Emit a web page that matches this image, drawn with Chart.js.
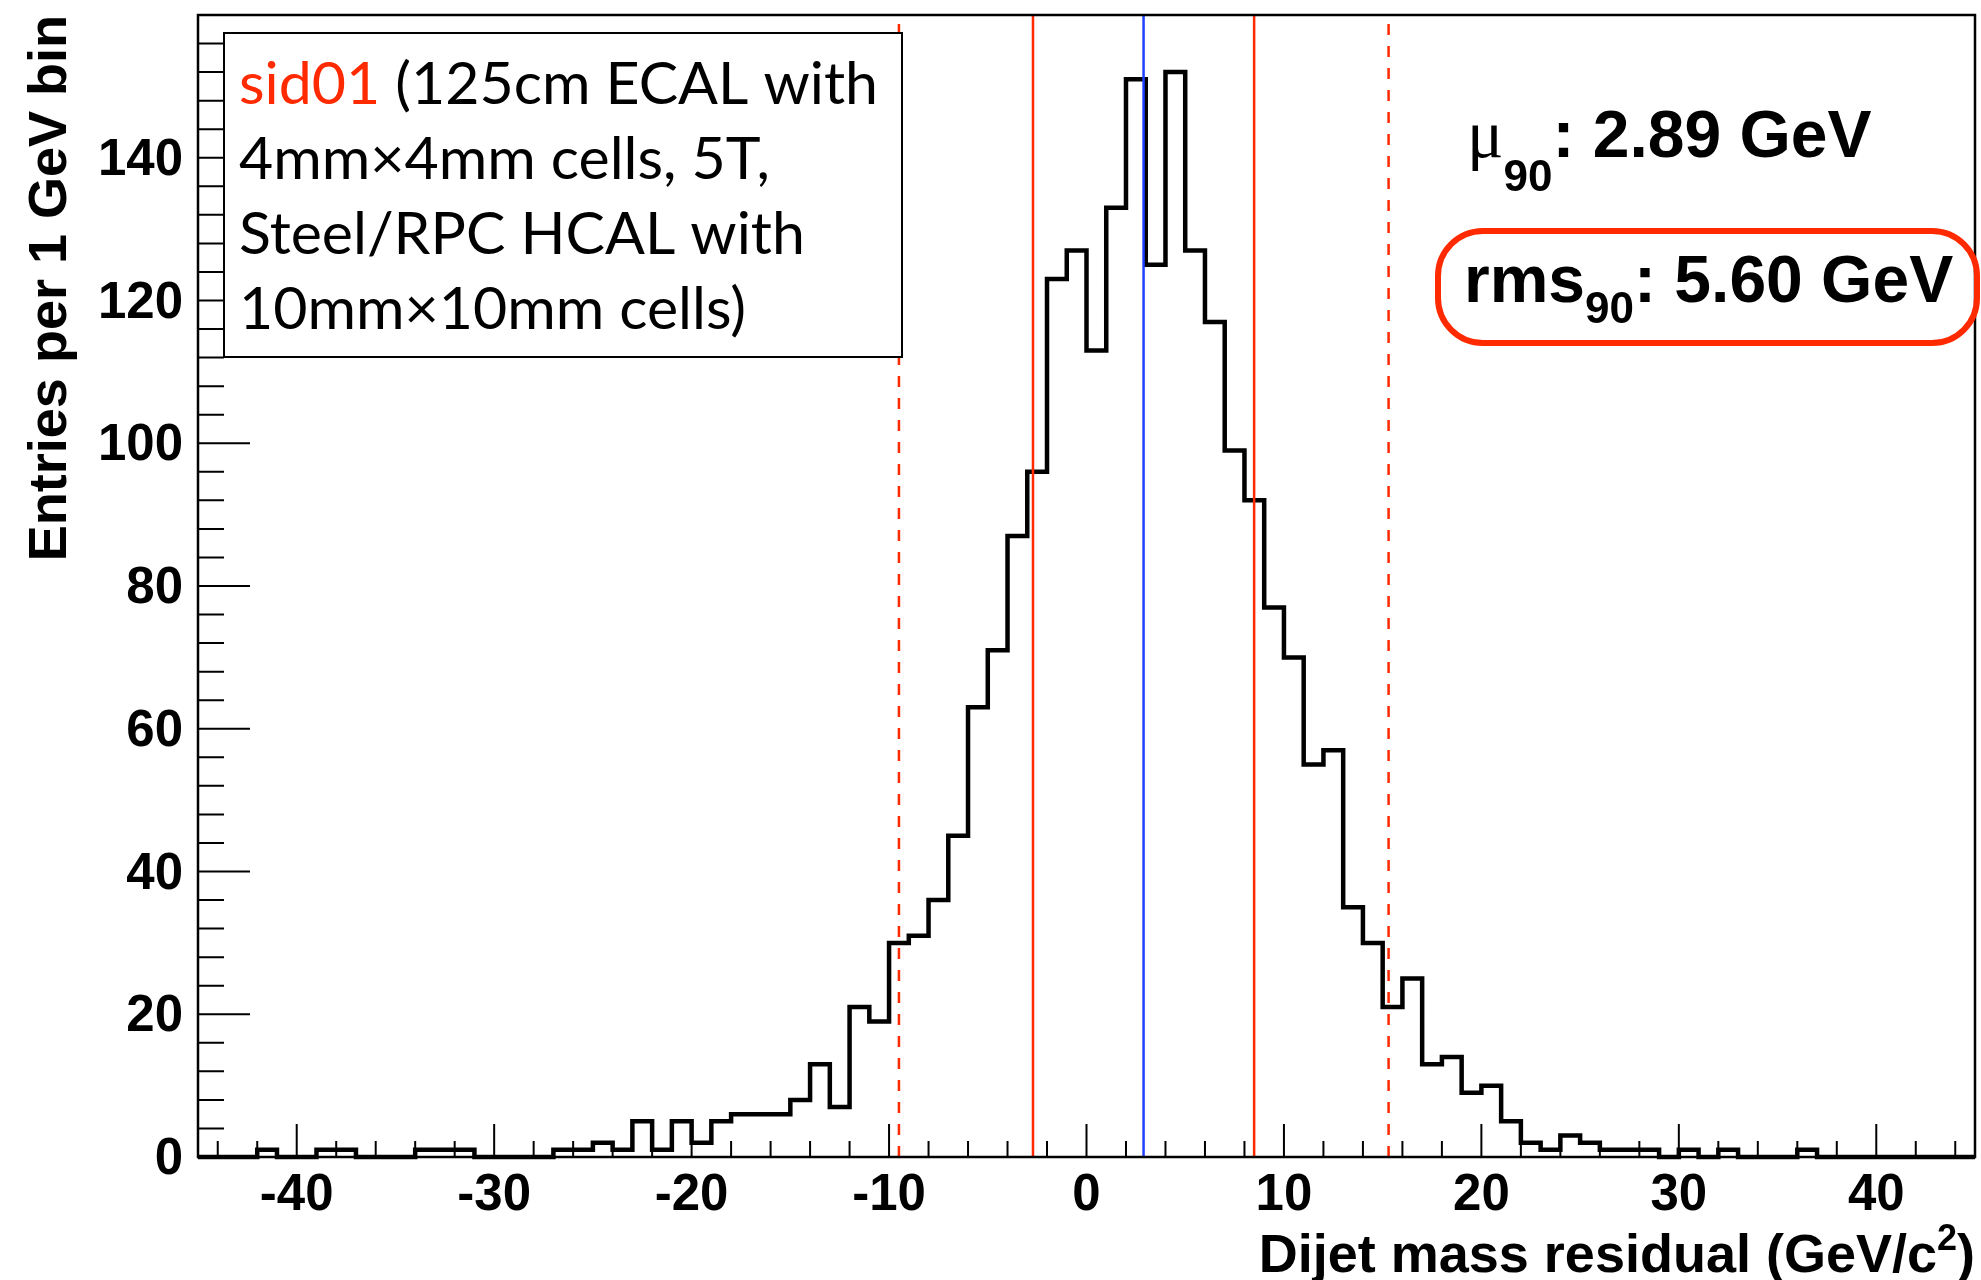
<!DOCTYPE html>
<html>
<head>
<meta charset="utf-8">
<script src="https://cdn.jsdelivr.net/npm/chart.js@4.4.1/dist/chart.umd.min.js"></script>
<style>
  html, body { margin: 0; padding: 0; background: #fff; }
  canvas { display: block; }
</style>
</head>
<body>
<canvas id="myChart" width="1981" height="1280"></canvas>
<script>
// Datos del histograma: bins de 1 GeV desde -45 hasta 45
const binLowEdge = -45;
const binWidth = 1;
const entries = [
    0, 0, 0, 1, 0, 0, 1, 1, 0, 0,
    0, 1, 1, 1, 0, 0, 0, 0, 1, 1,
    2, 1, 5, 1, 5, 2, 5, 6, 6, 6,
    8, 13, 7, 21, 19, 30, 31, 36, 45, 63,
    71, 87, 96, 123, 127, 113, 133, 151, 125, 152,
    127, 117, 99, 92, 77, 70, 55, 57, 35, 30,
    21, 25, 13, 14, 9, 10, 5, 2, 1, 3,
    2, 1, 1, 1, 0, 1, 0, 1, 0, 0,
    0, 1, 0, 0, 0, 0, 0, 0, 0, 0
];
const xTickValues = [-40, -30, -20, -10, 0, 10, 20, 30, 40];
const yTickValues = [0, 20, 40, 60, 80, 100, 120, 140];
const yMax = 160;

// Resultados (líneas verticales)
const mu90 = 2.89;
const rms90 = 5.60;
const range90 = [-9.5, 15.3];

// Textos
const xTitle = ['Dijet mass residual (GeV/c', '2', ')'];
const detectorName = 'sid01';
const detectorLines = [' (125cm ECAL with', '4mm×4mm cells, 5T,', 'Steel/RPC HCAL with', '10mm×10mm cells)'];

const RED = '#ff2a00';
const BLUE = '#2040ff';
const AXIS_FONT = 'Liberation Sans';

// Puntos del histograma (escalones)
const histPoints = entries.map((v, i) => ({ x: binLowEdge + i * binWidth, y: v }));
histPoints.push({ x: binLowEdge + entries.length * binWidth, y: entries[entries.length - 1] });

function vline(x, color, dash) {
    return {
        data: [{ x: x, y: 0 }, { x: x, y: yMax }],
        borderColor: color,
        borderWidth: 2.5,
        borderDash: dash || [],
        pointRadius: 0,
        order: 0
    };
}

// Ticks interiores, marco, caja de texto y resultados
const rootStyle = {
    id: 'rootStyle',
    afterDatasetsDraw(chart) {
        const { ctx, chartArea: a, scales: { x, y } } = chart;
        ctx.save();
        ctx.strokeStyle = '#000';
        ctx.lineWidth = 2;
        ctx.beginPath();
        for (let v = x.min + 1; v < x.max; v += 2) {
            const px = x.getPixelForValue(v);
            const len = xTickValues.includes(v) ? 33 : 16;
            ctx.moveTo(px, a.bottom);
            ctx.lineTo(px, a.bottom - len);
        }
        for (let v = y.min + 4; v < y.max; v += 4) {
            const py = y.getPixelForValue(v);
            const len = yTickValues.includes(v) ? 52 : 26;
            ctx.moveTo(a.left, py);
            ctx.lineTo(a.left + len, py);
        }
        ctx.stroke();

        ctx.lineWidth = 2.5;
        ctx.strokeRect(a.left, a.top, a.right - a.left, a.bottom - a.top);

        // título del eje x (con superíndice)
        ctx.fillStyle = '#000';
        ctx.textAlign = 'left';
        ctx.textBaseline = 'alphabetic';
        const big = 'bold 54px "' + AXIS_FONT + '"';
        const small = 'bold 36px "' + AXIS_FONT + '"';
        ctx.font = big;
        const w0 = ctx.measureText(xTitle[0]).width;
        const w2 = ctx.measureText(xTitle[2]).width;
        ctx.font = small;
        const w1 = ctx.measureText(xTitle[1]).width;
        let tx = a.right - (w0 + w1 + w2);
        ctx.font = big;
        ctx.fillText(xTitle[0], tx, 1272);
        ctx.font = small;
        ctx.fillText(xTitle[1], tx + w0, 1250);
        ctx.font = big;
        ctx.fillText(xTitle[2], tx + w0 + w1, 1272);

        // caja de texto
        ctx.fillStyle = '#fff';
        ctx.fillRect(224, 33, 678, 324);
        ctx.lineWidth = 2;
        ctx.strokeRect(224, 33, 678, 324);
        ctx.font = '59px Lato';
        const baselines = [104, 179, 254, 329];
        ctx.fillStyle = RED;
        ctx.fillText(detectorName, 239, baselines[0]);
        let w = ctx.measureText(detectorName).width;
        ctx.fillStyle = '#000';
        ctx.fillText(detectorLines[0], 239 + w, baselines[0]);
        for (let i = 1; i < detectorLines.length; i++) {
            ctx.fillText(detectorLines[i], 239, baselines[i]);
        }

        // mu90
        let cx = 1467;
        ctx.fillStyle = '#000';
        ctx.font = '68px "Liberation Serif"';
        ctx.fillText('μ', cx, 157);
        cx += ctx.measureText('μ').width;
        ctx.font = 'bold 44px "' + AXIS_FONT + '"';
        ctx.fillText('90', cx, 191);
        cx += ctx.measureText('90').width;
        ctx.font = 'bold 66px "' + AXIS_FONT + '"';
        ctx.fillText(': ' + mu90.toFixed(2) + ' GeV', cx, 157);

        // rms90
        cx = 1464;
        ctx.font = 'bold 66px "' + AXIS_FONT + '"';
        ctx.fillText('rms', cx, 302);
        cx += ctx.measureText('rms').width;
        ctx.font = 'bold 44px "' + AXIS_FONT + '"';
        ctx.fillText('90', cx, 323);
        cx += ctx.measureText('90').width;
        ctx.font = 'bold 66px "' + AXIS_FONT + '"';
        ctx.fillText(': ' + rms90.toFixed(2) + ' GeV', cx, 302);

        ctx.strokeStyle = RED;
        ctx.lineWidth = 6;
        ctx.beginPath();
        ctx.roundRect(1438, 231, 539, 112, 45);
        ctx.stroke();
        ctx.restore();
    }
};

const ctx = document.getElementById('myChart').getContext('2d');
const myChart = new Chart(ctx, {
    type: 'line',
    data: {
        datasets: [
            vline(range90[0], RED, [11, 11]),
            vline(mu90 - rms90, RED),
            vline(mu90, BLUE),
            vline(mu90 + rms90, RED),
            vline(range90[1], RED, [11, 11]),
            {
                label: 'Dijet mass residual',
                data: histPoints,
                stepped: 'before',
                borderColor: '#000',
                borderWidth: 4.5,
                pointRadius: 0,
                fill: false,
                clip: 4,
                order: 1
            }
        ]
    },
    options: {
        responsive: false,
        animation: false,
        devicePixelRatio: 1,
        layout: { padding: { top: 15, right: 6, left: 0, bottom: 0 } },
        plugins: { legend: { display: false }, tooltip: { enabled: false } },
        scales: {
            x: {
                type: 'linear',
                min: -45,
                max: 45,
                afterBuildTicks: (s) => { s.ticks = xTickValues.map(v => ({ value: v })); },
                afterFit: (s) => { s.height = 123; s.paddingLeft = 0; s.paddingRight = 0; },
                grid: { display: false, drawTicks: false },
                border: { display: false },
                ticks: { color: '#000', padding: 8, maxRotation: 0, font: { family: AXIS_FONT, weight: 'bold', size: 51 } },
                title: { display: false }
            },
            y: {
                min: 0,
                max: yMax,
                afterBuildTicks: (s) => { s.ticks = yTickValues.map(v => ({ value: v })); },
                afterFit: (s) => { s.width = 198; s.paddingTop = 0; s.paddingBottom = 0; },
                grid: { display: false, drawTicks: false },
                border: { display: false },
                ticks: { color: '#000', padding: 15, labelOffset: 3, font: { family: AXIS_FONT, weight: 'bold', size: 51 } },
                title: {
                    display: true,
                    text: 'Entries per 1 GeV bin',
                    align: 'end',
                    color: '#000',
                    padding: { top: 24, bottom: 0 },
                    font: { family: AXIS_FONT, weight: 'bold', size: 54, lineHeight: 1 }
                }
            }
        }
    },
    plugins: [rootStyle]
});
</script>
</body>
</html>
